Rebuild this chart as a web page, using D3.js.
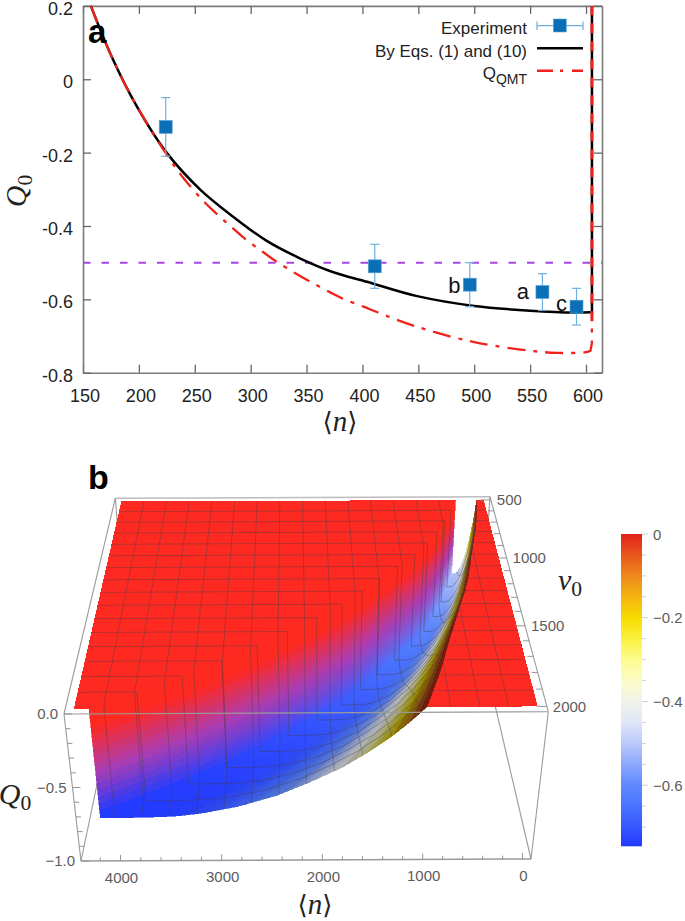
<!DOCTYPE html>
<html><head><meta charset="utf-8">
<script src="https://d3js.org/d3.v7.min.js"></script>
<style>
html,body{margin:0;padding:0;background:#fff}
svg{display:block}
text{font-family:"Liberation Sans",Arial,sans-serif}
.ser{font-family:"Liberation Serif",serif}
</style></head><body>
<svg id="c" width="685" height="921">
<defs><filter id="soft" x="-5%" y="-5%" width="110%" height="110%"><feGaussianBlur stdDeviation="0.55"/></filter></defs>
</svg>
<script>
// ---------- panel a data ----------
const expN   = [224, 411, 496, 561, 591.5];
const expQ   = [-0.13, -0.51, -0.56, -0.58, -0.62];
const expTop = [-0.05, -0.45, -0.50, -0.53, -0.57];
const expBot = [-0.21, -0.57, -0.62, -0.63, -0.67];
const expTag = ["", "", "b", "a", "c"];
const blackN = [157, 175.6, 196.5, 224.8, 254.6, 284, 314, 344, 374, 404, 450, 500, 550, 590, 604];
const blackQ = [0.2, 0.062, -0.065, -0.2, -0.3, -0.374, -0.44, -0.488, -0.526, -0.552, -0.592, -0.618, -0.631, -0.636, -0.635];
const redN   = [157, 175.6, 196.5, 224.8, 240, 259, 270, 284, 295, 311, 324, 340, 352.6, 370, 383, 401, 414, 448, 499, 550, 574, 600, 604];
const redQ   = [0.2, 0.062, -0.065, -0.205, -0.27, -0.336, -0.368, -0.406, -0.435, -0.471, -0.499, -0.529, -0.551, -0.579, -0.599, -0.62, -0.636, -0.674, -0.716, -0.74, -0.746, -0.744, -0.74];
const wallN  = [605.3, 605.3];
const wallQ  = [-0.635, 0.2];
const redWallN = [604, 605.2, 605.3];
const redWallQ = [-0.74, -0.72, -0.66];
const redTopN = [605.3, 605.3];
const redTopQ = [-0.66, 0.2];
const xTicksA = [150,200,250,300,350,400,450,500,550,600];
const yTicksA = [0.2,0,-0.2,-0.4,-0.6,-0.8];
// ---------- panel b data ----------
const v0Rows = d3.range(17).map(i => 500 + i*93.75);
const nMaxRow = [335,416,510,627,755,920,1130,1340,1540,1760,2030,2330,2630,2970,3340,3750,4170];
const nZeroRow = [82,115,150,195,245,295,340,390,450,525,595,665,735,800,870,950,1030];
const depthRow = [.51,.53,.56,.585,.61,.63,.645,.66,.675,.69,.70,.71,.72,.728,.735,.74,.743];
const profF = [0,.05,.1,.17,.25,.35,.45,.57,.69,.77,.84,.92,1];
const profQ = [0,-.105,-.197,-.305,-.41,-.51,-.597,-.67,-.717,-.735,-.74,-.743,-.743];
const legendQ = [0,-.05,-.1,-.15,-.2,-.25,-.3,-.35,-.4,-.45,-.5,-.55,-.6,-.65,-.7,-.745];
const legendC = ["#e2231a","#e8561c","#ee8a1c","#f5b510","#f7dc00","#fbf040","#fdfc90","#fbfcc8","#f0f2ea","#dfe6f8","#b8c8fb","#8ba6fd","#5f88fe","#4a72ff","#3656ff","#2238ff"];
const nTicksB = [4000,3000,2000,1000,0];
const vTicksB = [500,1000,1500,2000];
const qTicksB = [0,-0.5,-1];
const cbTicks = [0,-0.2,-0.4,-0.6];

const svg = d3.select("#c");
const MINUS = "\u2212";

function angle(sel, x, y, size){
  const t = sel.append("text").attr("x",x).attr("y",y).attr("text-anchor","middle").attr("fill","#222").attr("font-size",size);
  t.append("tspan").style("font-family","DejaVu Serif").attr("font-size",size*.9).text("\u27E8");
  t.append("tspan").attr("class","ser").attr("font-style","italic").text("n");
  t.append("tspan").style("font-family","DejaVu Serif").attr("font-size",size*.9).text("\u27E9");
  return t;
}
function sub(sel, x, y, size, letter){
  const t = sel.append("text").attr("x",x).attr("y",y).attr("fill","#222").attr("font-size",size).attr("class","ser").attr("text-anchor","middle");
  t.append("tspan").attr("font-style","italic").text(letter);
  t.append("tspan").attr("font-size",size*.72).attr("dy",size*.2).text("0");
  return t;
}

// ================= PANEL A =================
const x = d3.scaleLinear([150,614.3],[83,602]);
const y = d3.scaleLinear([-0.8,0.2],[372.7,5.9]);
const A = svg.append("g");
const frame = "#7a7a7a";
function styleAxis(g){
  g.selectAll(".domain").attr("stroke",frame).attr("stroke-width",1.6);
  g.selectAll(".tick line").attr("stroke","#666").attr("stroke-width",1.3);
  g.selectAll("text").attr("fill","#222").style("font-size","18px").style("font-family","Liberation Sans");
}
const fmtY = d => (d===0?"0":d3.format(".1f")(d).replace(MINUS,"-"));
A.append("g").attr("transform",`translate(0,${y(-0.8)})`).call(d3.axisBottom(x).tickValues(xTicksA).tickSizeInner(-8).tickSizeOuter(0).tickPadding(17).tickFormat(d3.format("d"))).call(styleAxis).selectAll("text").attr("dx",1.5);
A.append("g").attr("transform",`translate(0,${y(0.2)})`).call(d3.axisTop(x).tickValues(xTicksA).tickSizeInner(-8).tickSizeOuter(0).tickFormat("")).call(styleAxis);
A.append("g").attr("transform",`translate(${x(150)},0)`).call(d3.axisLeft(y).tickValues(yTicksA).tickSizeInner(-8).tickSizeOuter(0).tickPadding(10).tickFormat(fmtY)).call(styleAxis).selectAll("text").attr("dy","0.47em");
A.append("g").attr("transform",`translate(${x(614.3)},0)`).call(d3.axisRight(y).tickValues(yTicksA).tickSizeInner(-8).tickSizeOuter(0).tickFormat("")).call(styleAxis);

A.append("line").attr("x1",x(150)).attr("x2",x(614.3)).attr("y1",y(-0.5)).attr("y2",y(-0.5))
 .attr("stroke","#a845e0").attr("stroke-width",2).attr("stroke-dasharray","7.5 11");

const lineCurve = d3.line().x(d=>x(d[0])).y(d=>y(d[1])).curve(d3.curveCatmullRom.alpha(0.5));
const lineStraight = d3.line().x(d=>x(d[0])).y(d=>y(d[1]));
const black = blackN.map((n,i)=>[n,blackQ[i]]);
const red = redN.map((n,i)=>[n,redQ[i]]);
A.append("path").attr("d",lineCurve(black)).attr("fill","none").attr("stroke","#000").attr("stroke-width",2.5);
A.append("path").attr("d",lineStraight([black[black.length-1],...wallN.map((n,i)=>[n,wallQ[i]])])).attr("fill","none").attr("stroke","#000").attr("stroke-width",2.5);
const redAll = lineCurve(red) + lineStraight(redWallN.map((n,i)=>[n,redWallQ[i]])).replace(/^M/,"L");
A.append("path").attr("d",redAll).attr("fill","none").attr("stroke","#f0231c").attr("stroke-width",2.3).attr("stroke-dasharray","18 8 4 8");
A.append("path").attr("d",lineStraight(redTopN.map((n,i)=>[n,redTopQ[i]]))).attr("fill","none").attr("stroke","#f0231c").attr("stroke-width",3).attr("stroke-dasharray","10 8");

const pts = A.selectAll(".pt").data(expN).join("g");
const errC = "#6fb0de", mkC = "#0b6fb6";
pts.append("line").attr("x1",d=>x(d)).attr("x2",d=>x(d)).attr("y1",(d,i)=>y(expTop[i])).attr("y2",(d,i)=>y(expBot[i])).attr("stroke",errC).attr("stroke-width",1.2);
[expTop,expBot].forEach(arr=>pts.append("line").attr("x1",d=>x(d)-4.5).attr("x2",d=>x(d)+4.5).attr("y1",(d,i)=>y(arr[i])).attr("y2",(d,i)=>y(arr[i])).attr("stroke",errC).attr("stroke-width",1.2));
pts.append("rect").attr("x",d=>x(d)-6.5).attr("y",(d,i)=>y(expQ[i])-6.5).attr("width",13).attr("height",13).attr("fill",mkC).attr("stroke","#5ea6da").attr("stroke-width",.6);
const tagOff = {b:[-15.5,8.3],a:[-19.5,7],c:[-15,4.5]};
pts.append("text").attr("x",(d,i)=>expTag[i]?x(d)+tagOff[expTag[i]][0]:0).attr("y",(d,i)=>expTag[i]?y(expQ[i])+tagOff[expTag[i]][1]:0)
  .attr("font-size",22).attr("fill","#111").attr("text-anchor","middle").text((d,i)=>expTag[i]);

// legend a
const lg = A.append("g").attr("font-size",17).attr("fill","#222").attr("text-anchor","end");
lg.append("text").attr("x",527).attr("y",34).text("Experiment");
lg.append("text").attr("x",527).attr("y",57).text("By Eqs. (1) and (10)");
const qq = lg.append("text").attr("x",527).attr("y",79);
qq.append("tspan").text("Q");
qq.append("tspan").attr("font-size",14).attr("dy",5).text("QMT");
A.append("line").attr("x1",537).attr("x2",583).attr("y1",25.7).attr("y2",25.7).attr("stroke",errC).attr("stroke-width",1.2);
[537,583].forEach(v=>A.append("line").attr("x1",v).attr("x2",v).attr("y1",21.5).attr("y2",30).attr("stroke",errC).attr("stroke-width",1.2));
A.append("rect").attr("x",553.3).attr("y",19).attr("width",13).attr("height",13).attr("fill",mkC).attr("stroke","#5ea6da").attr("stroke-width",.6);
A.append("line").attr("x1",537).attr("x2",583).attr("y1",48.3).attr("y2",48.3).attr("stroke","#000").attr("stroke-width",2.5);
A.append("line").attr("x1",537).attr("x2",583).attr("y1",70.7).attr("y2",70.7).attr("stroke","#f0231c").attr("stroke-width",2.4).attr("stroke-dasharray","16 7 3 9 11");

A.append("text").attr("x",88).attr("y",43).attr("font-size",33).attr("font-weight","bold").attr("fill","#000").text("a");
sub(A,0,0,30,"Q").attr("x",null).attr("y",null).attr("transform","translate(26,191) rotate(-90)");
angle(A,340,431,29);

// ================= PANEL B =================
function homography(q){
  const [p0,p1,p2,p3]=q;
  const dx1=p1[0]-p2[0],dx2=p3[0]-p2[0],sx=p0[0]-p1[0]+p2[0]-p3[0];
  const dy1=p1[1]-p2[1],dy2=p3[1]-p2[1],sy=p0[1]-p1[1]+p2[1]-p3[1];
  const den=dx1*dy2-dx2*dy1;
  const g=(sx*dy2-dx2*sy)/den,h=(dx1*sy-sx*dy1)/den;
  const a=p1[0]-p0[0]+g*p1[0],b=p3[0]-p0[0]+h*p3[0],c=p0[0];
  const d=p1[1]-p0[1]+g*p1[1],e=p3[1]-p0[1]+h*p3[1],f=p0[1];
  return (u,v)=>{const w=g*u+h*v+1;return [(a*u+b*v+c)/w,(d*u+e*v+f)/w];};
}
const topQuad = homography([[115.3,498.3],[490,496.7],[548.3,711.7],[64,714]]);
const botQuad = homography([[127,641],[480,641],[531,859],[81,861]]);
const uS = d3.scaleLinear([4390,-85],[0,1]);
const vS = d3.scaleLinear([470,2030],[0,1]);
const tS = d3.scaleLinear([0,-1],[0,1]);
function P(n,v0,q){
  const u=uS(n),v=vS(v0),t=tS(q);
  const a=topQuad(u,v),b=botQuad(u,v);
  return [a[0]+(b[0]-a[0])*t,a[1]+(b[1]-a[1])*t];
}
const nMaxOf=d3.scaleLinear(v0Rows,nMaxRow), nZeroOf=d3.scaleLinear(v0Rows,nZeroRow), depthOf=d3.scaleLinear(v0Rows,depthRow);
const profile=d3.scaleLinear(profF,profQ).clamp(true);
const depthMax=depthRow[depthRow.length-1];
function Qof(n,v0){
  const n0=nZeroOf(v0),nm=nMaxOf(v0);
  if(n<=n0||n>nm) return 0;
  return profile((n-n0)/(nm-n0))*depthOf(v0)/depthMax;
}
const colorQ=d3.scaleLinear(legendQ,legendC).clamp(true);
const surfRed="#fe2a20", wallMid="#ad3cb0";
const pathOf=pts=>"M"+pts.map(p=>p[0].toFixed(2)+","+p[1].toFixed(2)).join("L")+"Z";
const openPath=pts=>"M"+pts.map(p=>p[0].toFixed(2)+","+p[1].toFixed(2)).join("L");

const B=svg.append("g");
const boxC="#9a9a9a";
function seg(g,a,b,c,w){g.append("line").attr("x1",a[0]).attr("y1",a[1]).attr("x2",b[0]).attr("y2",b[1]).attr("stroke",c||boxC).attr("stroke-width",w||1.1);}
const nL=4390,nR=-85,vB=470,vF=2030;
// back box edges
seg(B,P(nL,vB,0),P(nR,vB,0),"#bdbdbd",1.4);
seg(B,P(nL,vB,0),P(nL,vF,0));
seg(B,P(nR,vB,0),P(nR,vF,0));
seg(B,P(nL,vB,0),P(nL,vB,-1));
seg(B,P(nR,vB,0),P(nR,vB,-1));
seg(B,P(nL,vF,-1),P(nL,vB,-1));
seg(B,P(nR,vF,-1),P(nR,vB,-1));

const S=B.append("g").attr("filter","url(#soft)").attr("shape-rendering","crispEdges");
const nEdgeL=4310,nEdgeR=0;
const dv=1500/64;
const fineV=d3.range(0,64).map(i=>500+i*dv);
// flat parts
const leftPoly=[P(nEdgeL,500,0)];
const rightPoly=[P(nEdgeR,500,0)];
d3.range(0,65).forEach(i=>{const v=500+i*dv;leftPoly.push(P(nMaxOf(v),v,0));});
leftPoly.push(P(nEdgeL,2000,0));
d3.range(0,65).forEach(i=>{const v=500+i*dv;rightPoly.push(P(nZeroOf(v),v,0));});
rightPoly.push(P(nEdgeR,2000,0));
S.append("path").attr("d",pathOf(leftPoly)).attr("fill",surfRed);
S.append("path").attr("d",pathOf(rightPoly)).attr("fill",surfRed);

const fracs=d3.range(0,41).map(i=>i/40);
const wallRamp=d3.scaleLinear([0.18,0.97],[0,1]).clamp(true);
fineV.forEach(v=>{
  const v2=v+dv;
  // wall strip
  const nm1=nMaxOf(v),nm2=nMaxOf(v2);
  const q1=profQ[profQ.length-1]*depthOf(v)/depthMax, q2=profQ[profQ.length-1]*depthOf(v2)/depthMax;
  const bandCol=d3.piecewise(d3.interpolateRgb,[surfRed,wallMid,colorQ((q1+q2)/2)]);
  const bands=16;
  d3.range(bands).forEach(b=>{
    const t1=b/bands,t2=(b+1)/bands;
    const poly=[P(nm1,v,q1*t1),P(nm2,v2,q2*t1),P(nm2,v2,q2*t2),P(nm1,v,q1*t2)];
    const c=bandCol(wallRamp((t1+t2)/2));
    S.append("path").attr("d",pathOf(poly)).attr("fill",c).attr("stroke",c).attr("stroke-width",.6);
  });
  // floor strip
  const n01=nZeroOf(v),n02=nZeroOf(v2);
  d3.range(fracs.length-1).forEach(j=>{
    const f1=fracs[j],f2=fracs[j+1];
    const pn=(n0,nm,f)=>n0+(nm-n0)*f;
    const a=[pn(n01,nm1,f1),v],b=[pn(n01,nm1,f2),v],c=[pn(n02,nm2,f2),v2],d=[pn(n02,nm2,f1),v2];
    const qa=profile(f1)*depthOf(v)/depthMax,qb=profile(f2)*depthOf(v)/depthMax,
          qc=profile(f2)*depthOf(v2)/depthMax,qd=profile(f1)*depthOf(v2)/depthMax;
    const qm=(qa+qb+qc+qd)/4;
    const slope=Math.abs((qb-qa)/(f2-f1));
    const shade=Math.max(.42,1-.25*slope);
    const base=d3.rgb(colorQ(qm));
    const col=d3.rgb(base.r*shade,base.g*shade,base.b*shade).formatRgb();
    const poly=[P(a[0],a[1],qa),P(b[0],b[1],qb),P(c[0],c[1],qc),P(d[0],d[1],qd)];
    S.append("path").attr("d",pathOf(poly)).attr("fill",col).attr("stroke",col).attr("stroke-width",.6);
  });
});

// mesh
const meshC="rgba(70,60,70,.5)";
const M=B.append("g").attr("fill","none").attr("stroke",meshC).attr("stroke-width",.8);
const meshV=d3.range(1,16).map(i=>500+i*93.75);
const meshN=d3.range(1,16).map(i=>i*nEdgeL/16);
meshV.forEach(v=>{
  const nm=nMaxOf(v),n0=nZeroOf(v);
  const pts=[P(nEdgeL,v,0),P(nm,v,0)];
  d3.range(0,41).forEach(j=>{const f=1-j/40;pts.push(P(n0+(nm-n0)*f,v,profile(f)*depthOf(v)/depthMax));});
  pts.push(P(nEdgeR,v,0));
  M.append("path").attr("d",openPath(pts));
});
meshN.forEach(n=>{
  const pts=[];let prev=null;
  d3.range(0,121).forEach(j=>{
    const v=500+j*12.5, q=Qof(n,v);
    if(prev===0&&q<-.01&&n>nMaxOf(v-12.5)){pts.push(P(n,v,0));}
    pts.push(P(n,v,q));prev=q;
  });
  M.append("path").attr("d",openPath(pts));
});

// front box edges, over the surface
seg(B,P(nL,vF,0),P(nR,vF,0));
seg(B,P(nL,vF,0),P(nL,vF,-1));
seg(B,P(nR,vF,0),P(nR,vF,-1));
seg(B,P(nL,vF,-1),P(nR,vF,-1),"#9a9a9a",1.5);

// axis ticks b
const tickC="#8a8a8a", lblC="#5c5c5c";
d3.range(0,4400,200).forEach(n=>{
  const p=P(n,vF,-1);const major=n%1000===0;
  B.append("line").attr("x1",p[0]).attr("y1",p[1]).attr("x2",p[0]).attr("y2",p[1]-(major?6:3.5)).attr("stroke",tickC).attr("stroke-width",.9);
});
B.append("g").selectAll("text").data(nTicksB).join("text").attr("x",n=>P(n,vF,-1)[0]+1).attr("y",n=>P(n,vF,-1)[1]+22).attr("font-size",15).attr("fill",lblC).attr("text-anchor","middle").text(n=>n);
d3.range(500,2100,100).forEach(v=>{
  const p=P(nR,v,0);const major=v%500===0;
  B.append("line").attr("x1",p[0]).attr("y1",p[1]).attr("x2",p[0]-(major?10:6)).attr("y2",p[1]).attr("stroke",tickC).attr("stroke-width",.9);
});
B.append("g").selectAll("text").data(vTicksB).join("text").attr("x",v=>P(nR,v,0)[0]+6).attr("y",v=>P(nR,v,0)[1]+5.5).attr("font-size",15).attr("fill",lblC).text(v=>v);
d3.range(0,-1.01,-.1).forEach(q=>{
  const p=P(nL,vF,q);const major=Math.abs(q*2-Math.round(q*2))<1e-6;
  B.append("line").attr("x1",p[0]).attr("y1",p[1]).attr("x2",p[0]+(major?8:5)).attr("y2",p[1]).attr("stroke",tickC).attr("stroke-width",.9);
});
const fmtB=d3.format(".1f");
B.append("g").selectAll("text").data(qTicksB).join("text").attr("x",q=>P(nL,vF,q)[0]-6).attr("y",q=>P(nL,vF,q)[1]+5).attr("font-size",15).attr("fill",lblC).attr("text-anchor","end").text(q=>fmtB(q).replace("-",MINUS));

B.append("text").attr("x",88).attr("y",489).attr("font-size",34).attr("font-weight","bold").attr("fill","#000").text("b");
sub(B,15,804,30,"Q");
sub(B,570,590,30,"v");
angle(B,315,914,29);

// colour bar
const cbY=d3.scaleLinear([0,-.745],[534,846]);
const cb=svg.append("g");
d3.range(0,312).forEach(i=>{
  cb.append("rect").attr("x",621).attr("y",534+i).attr("width",21).attr("height",1.3).attr("fill",colorQ(cbY.invert(534+i)));
});
d3.range(0,-.75,-.05).forEach(q=>{
  const major=Math.abs(q*5-Math.round(q*5))<1e-6;
  cb.append("line").attr("x1",642).attr("x2",major?648:646).attr("y1",cbY(q)).attr("y2",cbY(q)).attr("stroke","#c4c4c4").attr("stroke-width",.8);
});
cb.selectAll(".cbl").data(cbTicks).join("text").attr("x",653).attr("y",q=>cbY(q)+5.5).attr("font-size",15).attr("fill",lblC).text(q=>q===0?"0":fmtB(q).replace("-",MINUS));
</script>
</body></html>
